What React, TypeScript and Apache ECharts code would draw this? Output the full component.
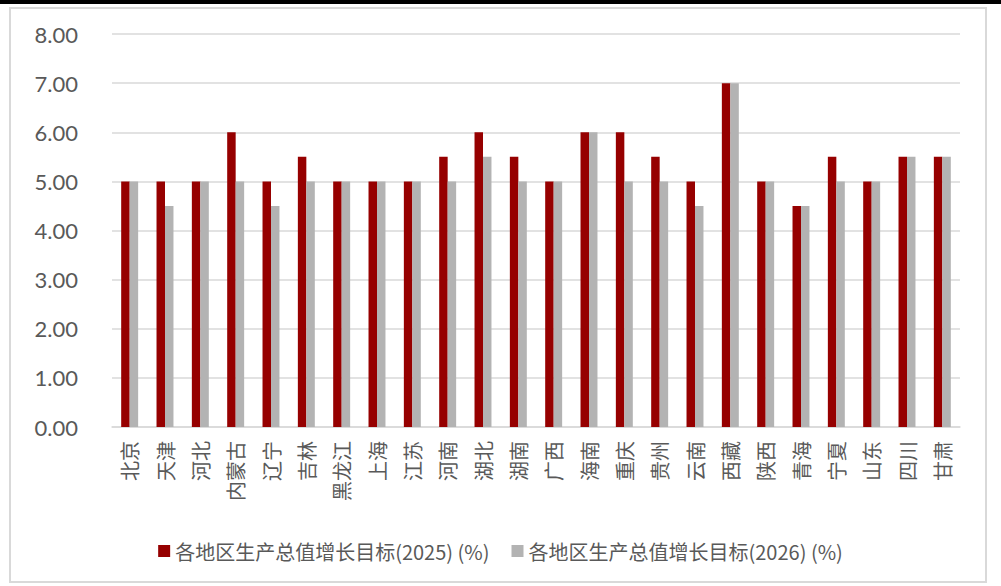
import React, { useEffect, useRef } from "react";
import * as echarts from "echarts";

const categories = ["北京", "天津", "河北", "内蒙古", "辽宁", "吉林", "黑龙江", "上海", "江苏", "河南", "湖北", "湖南", "广西", "海南", "重庆", "贵州", "云南", "西藏", "陕西", "青海", "宁夏", "山东", "四川", "甘肃"];
const target2025 = [5, 5, 5, 6, 5, 5.5, 5, 5, 5, 5.5, 6, 5.5, 5, 6, 6, 5.5, 5, 7, 5, 4.5, 5.5, 5, 5.5, 5.5];
const target2026 = [5, 4.5, 5, 5, 4.5, 5, 5, 5, 5, 5, 5.5, 5, 5, 6, 5, 5, 4.5, 7, 5, 4.5, 5, 5, 5.5, 5.5];
const seriesNames = ["各地区生产总值增长目标(2025) (%)", "各地区生产总值增长目标(2026) (%)"];

const CJK = "'Noto Sans CJK SC', 'Noto Sans', sans-serif";

export default function App() {
  const ref = useRef<HTMLDivElement>(null);
  useEffect(() => {
    if (!ref.current) return;
    const chart = echarts.init(ref.current, undefined, { renderer: "svg" });
    chart.setOption({
      animation: false,
      backgroundColor: "#ffffff",
      grid: { left: 112, right: 41, top: 34, bottom: 159, containLabel: false },
      legend: {
        left: "center",
        top: 536,
        itemWidth: 12,
        itemHeight: 12,
        itemGap: 22,
        icon: "rect",
        textStyle: { color: "#595959", fontSize: 20, fontFamily: CJK },
        data: seriesNames,
      },
      xAxis: {
        type: "category",
        data: categories,
        axisLine: { show: true, lineStyle: { color: "#d9d9d9", width: 1.5 } },
        axisTick: { show: false },
        axisLabel: {
          rotate: 90,
          interval: 0,
          margin: 14,
          color: "#595959",
          fontSize: 20,
          fontFamily: CJK,
        },
      },
      yAxis: {
        type: "value",
        min: 0,
        max: 8,
        interval: 1,
        axisLine: { show: false },
        axisTick: { show: false },
        splitLine: { lineStyle: { color: "#d9d9d9", width: 1.5 } },
        axisLabel: {
          margin: 34,
          color: "#595959",
          fontSize: 22,
          fontFamily: "Lato, 'Noto Sans', sans-serif",
          formatter: (v: number) => v.toFixed(2),
        },
      },
      series: [
        {
          name: seriesNames[0],
          type: "bar",
          data: target2025,
          barWidth: "24%",
          barGap: "0%",
          itemStyle: { color: "#960000" },
        },
        {
          name: seriesNames[1],
          type: "bar",
          data: target2026,
          barWidth: "24%",
          itemStyle: { color: "#b3b3b3" },
        },
      ],
      graphic: [
        { type: "rect", shape: { x: 0, y: 0, width: 1001, height: 4 }, style: { fill: "#000000" }, silent: true },
        {
          type: "rect",
          shape: { x: 10, y: 8, width: 976, height: 574 },
          style: { fill: "none", stroke: "#d9d9d9", lineWidth: 2 },
          silent: true,
        },
      ],
    });
    return () => chart.dispose();
  }, []);
  return (
    <div
      ref={ref}
      style={{ position: "fixed", left: 0, top: 0, width: 1001, height: 586 }}
    />
  );
}
